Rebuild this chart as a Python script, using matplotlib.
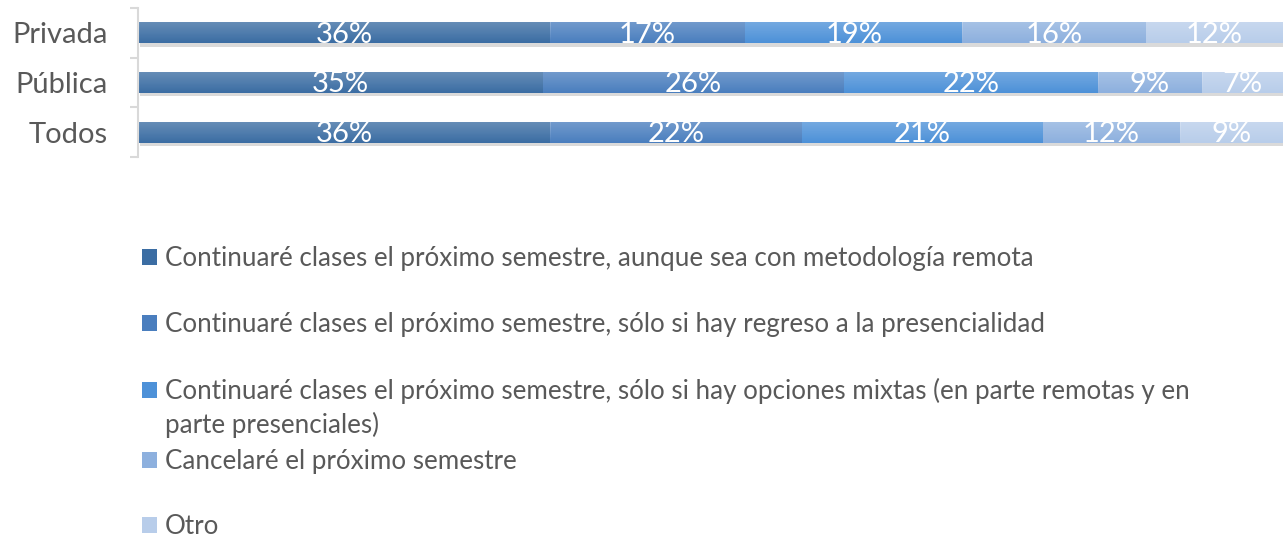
import numpy as np
import matplotlib.pyplot as plt
from matplotlib.patches import Rectangle
import matplotlib.patheffects as pe

plt.rcParams['font.family'] = ['Lato', 'DejaVu Sans']

# data
groups = ["Privada", "Pública", "Todos"]
series = [
    "Continuaré clases el próximo semestre, aunque sea con metodología remota",
    "Continuaré clases el próximo semestre, sólo si hay regreso a la presencialidad",
    "Continuaré clases el próximo semestre, sólo si hay opciones mixtas (en parte remotas y en\nparte presenciales)",
    "Cancelaré el próximo semestre",
    "Otro",
]
privada = [36, 17, 19, 16, 12]
publica = [35, 26, 22, 9, 7]
todos = [36, 22, 21, 12, 9]
colors = ["#3B6DA3", "#4A7EBE", "#4D91D8", "#8DB0DE", "#B8CDEA"]
text_grey = "#595959"

values = np.array([privada, publica, todos], dtype=float)
shares = values / values.sum(axis=1, keepdims=True) * 100

fig = plt.figure(figsize=(12.86, 5.38), dpi=100)
ax = fig.add_axes([138 / 1286, 1 - 157 / 538, 1145 / 1286, 149 / 538])

ypos = np.arange(len(groups))[::-1]
left = np.zeros(len(groups))
for i, col in enumerate(colors):
    bars = ax.barh(ypos, shares[:, i], left=left, height=0.42, color=col,
                   edgecolor='none', zorder=2)
    for b in bars:
        b.set_path_effects([pe.SimplePatchShadow(offset=(1.5, -2.5), alpha=0.18, shadow_rgbFace='#333333'),
                            pe.Normal()])
        # soft vertical gradient on top of each segment
        x0, y0 = b.get_x(), b.get_y()
        grad = np.linspace(0.22, 0.0, 50).reshape(-1, 1)
        ov = np.ones((50, 1, 4))
        ov[..., 3] = grad
        im = ax.imshow(ov, extent=[x0, x0 + b.get_width(), y0, y0 + b.get_height()],
                       aspect='auto', origin='upper', zorder=3, interpolation='bilinear')
        im.set_clip_path(b)
    for j, b in enumerate(bars):
        ax.text(b.get_x() + b.get_width() / 2, ypos[j] - 0.04, f"{values[j, i]:.0f}%",
                ha='center', va='center', color='white', fontsize=21, zorder=4)
    left += shares[:, i]

ax.set_xlim(0, 100)
ax.set_ylim(-0.5, 2.5)
ax.set_yticks(ypos)
ax.set_yticklabels(groups, fontsize=21, color=text_grey)
ax.set_yticks([-0.5, 0.5, 1.5, 2.5], minor=True)
ax.tick_params(axis='y', which='major', length=0, pad=22)
ax.tick_params(axis='y', which='minor', length=6, color='#D9D9D9', width=1.5)
ax.set_xticks([])
for s in ['top', 'right', 'bottom']:
    ax.spines[s].set_visible(False)
ax.spines['left'].set_color('#D9D9D9')
ax.spines['left'].set_linewidth(1.5)
ax.set_facecolor('none')

# legend drawn by hand (uneven row spacing like the original)
leg_y = [257, 323, 390, 460, 525]
for lab, col, yp in zip(series, colors, leg_y):
    fy = 1 - yp / 538
    fig.patches.append(Rectangle((142 / 1286, fy - 8 / 538), 15 / 1286, 16 / 538,
                                 transform=fig.transFigure, facecolor=col, edgecolor='none'))
    # each line of the label on its own
    for k, line in enumerate(lab.split("\n")):
        fig.text(165 / 1286, fy - (9 + 34 * k) / 538, line, fontsize=18.7,
                 color=text_grey, va='baseline', ha='left')

fig.savefig("out.png", dpi=100)
